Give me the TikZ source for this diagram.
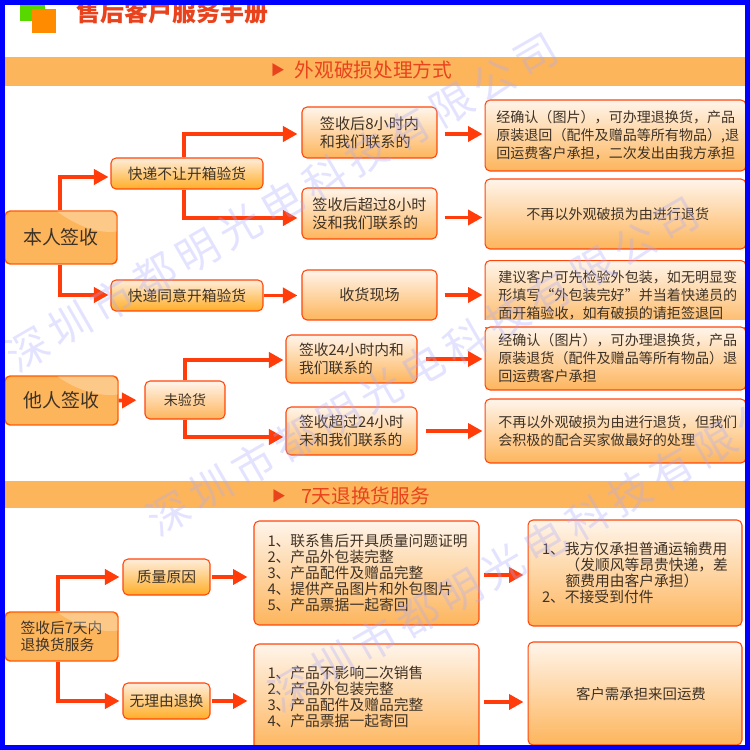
\documentclass[tikz,border=0pt]{standalone}
\usepackage{xcolor}
\usepackage{fontspec}
\setmainfont{Noto Sans CJK SC}
\newfontfamily\wmfont{Noto Sans CJK SC}[LetterSpace=16]
\usetikzlibrary{arrows.meta,calc}
\definecolor{linered}{HTML}{FF3C0A}
\definecolor{ink}{HTML}{3E3226}
\definecolor{headred}{HTML}{E9431E}
\definecolor{barorange}{HTML}{FDB55C}
\newcommand{\ind}{\hspace*{0.09cm}}
\tikzset{
    box/.style={draw=linered!85!orange,line width=0.6pt,rounded corners=0.1cm,top color=orange!8!white,bottom color=barorange,inner sep=0pt,text=ink,font=\fontsize{8}{10.2}\selectfont,align=left},
    midbox/.style={box,font=\fontsize{8.6}{10.2}\selectfont},
    smallbox/.style={box,font=\fontsize{8.4}{10}\selectfont,top color=orange!14!white,bottom color=orange!75!yellow!85!white},
    mainbox/.style={box,draw=orange!70!red,line width=0.8pt,top color=barorange,bottom color=barorange},
    listbox/.style={box,text width=3.96cm},
    bar/.style={fill=barorange,inner sep=0pt,minimum width=14.8cm},
    barlabel/.style={text=headred,font=\fontsize{11.2}{12}\selectfont},
    arr/.style={draw=linered,line width=0.075cm,-{Triangle[length=0.29cm,width=0.3cm]}},
    watermark/.style={text=blue!55!white!60!white,opacity=0.32,rotate=30,font=\wmfont\fontsize{24}{26}\selectfont}
}
\begin{document}
\begin{tikzpicture}[x=0.02cm,y=-0.02cm]
    \clip (0,0) rectangle (750,750);
    \fill[white] (0,0) rectangle (750,750);

    % header
    \node[fill=green!60!yellow!85!black,minimum width=0.5cm,minimum height=0.32cm,inner sep=0pt] (sqa) at (32.5,13) {};
    \node[fill=orange!90!yellow,minimum width=0.48cm,minimum height=0.48cm,inner sep=0pt] (sqb) at (44,21) {};
    \node[text=headred,font=\fontsize{13.6}{15}\selectfont\bfseries] (title) at (172.5,12) {售后客户服务手册};

    % first bar
    \node[bar,minimum height=0.58cm] (bar1) at (375,71.5) {};
    \node[barlabel,font=\fontsize{8}{9}\selectfont] (mark1) at (278,70) {▶};
    \node[barlabel] (head1) at (373.5,70.5) {外观破损处理方式};

    % own signature
    \node[mainbox,minimum width=2.24cm,minimum height=1.06cm,font=\fontsize{10.8}{12}\selectfont] (own) at (61,237.5) {本人签收};
    \node[smallbox,minimum width=3.04cm,minimum height=0.62cm] (refuse) at (187,173.5) {快递不让开箱验货};
    \node[smallbox,minimum width=3.04cm,minimum height=0.62cm] (agree) at (187,295.5) {快递同意开箱验货};
    \node[midbox,minimum width=2.7cm,minimum height=1.02cm] (ina) at (369.5,132.5) {签收后8小时内\\和我们联系的};
    \node[midbox,minimum width=2.7cm,minimum height=1.02cm] (inb) at (369.5,213.5) {签收后超过8小时\\没和我们联系的};
    \node[midbox,minimum width=2.7cm,minimum height=1cm] (inc) at (369.5,295) {收货现场};
    \node[box,minimum width=5.22cm,minimum height=1.42cm] (resa) at (615.5,135.5) {\ind 经确认（图片），可办理退换货，产品\\\ind 原装退回（配件及赠品等所有物品）,退\\\ind 回运费客户承担，二次发出由我方承担};
    \node[box,minimum width=5.22cm,minimum height=1.4cm] (resb) at (615.5,214) {\ind 不再以外观破损为由进行退货};
    \node[box,minimum width=5.22cm,minimum height=1.4cm,anchor=north] (resc) at (615.5,260) {\ind 建议客户可先检验外包装，如无明显变\\\ind 形填写“外包装完好”并当着快递员的\\\ind 面开箱验收，如有破损的请拒签退回};
    \fill[white] (480,320) rectangle (750,327); % cut off at the bottom

    % other signature
    \node[mainbox,minimum width=2.26cm,minimum height=0.98cm,font=\fontsize{10.8}{12}\selectfont] (other) at (61.5,400.5) {他人签收};
    \node[box,minimum width=1.6cm,minimum height=0.76cm] (unseen) at (185,400) {未验货};
    \node[midbox,font=\fontsize{8.4}{10.2}\selectfont,minimum width=2.62cm,minimum height=0.96cm] (ind) at (351.5,359) {签收24小时内和\\我们联系的};
    \node[midbox,font=\fontsize{8.4}{10.2}\selectfont,minimum width=2.62cm,minimum height=0.96cm] (ine) at (351.5,431) {签收超过24小时\\未和我们联系的};
    \node[box,minimum width=5.22cm,minimum height=1.26cm] (resd) at (615.5,358.5) {\ind 经确认（图片），可办理退换货，产品\\\ind 原装退货（配件及赠品等所有物品）退\\\ind 回运费客户承担};
    \node[box,minimum width=5.22cm,minimum height=1.28cm] (rese) at (615.5,431) {\ind 不再以外观破损为由进行退货，但我们\\\ind 会积极的配合买家做最好的处理};

    % second bar
    \node[bar,minimum height=0.54cm] (bar2) at (375,494.5) {};
    \node[barlabel,font=\fontsize{8}{9}\selectfont] (mark2) at (279,496) {▶};
    \node[barlabel] (head2) at (365.5,496) {7天退换货服务};

    % seven days
    \node[mainbox,minimum width=2.26cm,minimum height=0.98cm,font=\fontsize{8.4}{9.6}\selectfont] (days) at (61.5,636.5) {签收后7天内\\退换货服务};
    \node[smallbox,minimum width=1.74cm,minimum height=0.72cm] (quality) at (166.5,577) {质量原因};
    \node[smallbox,minimum width=1.74cm,minimum height=0.72cm] (noreason) at (166.5,701) {无理由退换};
    \node[listbox,minimum width=4.5cm,minimum height=2.08cm,font=\fontsize{8.4}{9.1}\selectfont] (lista) at (366.5,573) {1、联系售后开具质量问题证明\\2、产品外包装完整\\3、产品配件及赠品完整\\4、提供产品图片和外包图片\\5、产品票据一起寄回};
    \node[listbox,minimum width=4.5cm,minimum height=2.12cm,font=\fontsize{8.4}{9.1}\selectfont] (listb) at (366.5,697) {1、产品不影响二次销售\\2、产品外包装完整\\3、产品配件及赠品完整\\4、产品票据一起寄回};
    \node[box,minimum width=4.28cm,minimum height=2.12cm,font=\fontsize{8.4}{9.1}\selectfont] (feea) at (635,573) {1、我方仅承担普通运输费用\\\hspace*{1.6em}（发顺风等昂贵快递，差\\\hspace*{1.6em}额费用由客户承担）\\2、不接受到付件};
    \node[box,minimum width=4.28cm,minimum height=2.06cm,font=\fontsize{8.2}{9.1}\selectfont] (feeb) at (635,693.5) {\hspace*{0.24cm}客户需承担来回运费};

    % gloss on the three big boxes
    \foreach \n in {own,other,days} {
        \fill[white,opacity=0.28] ($(\n.north)+(-4,1)$) -- ($(\n.north east)+(-5,1)$) -- ($(\n.north east)+(-1,6)$) -- ($(\n.east)+(-1,-6)$) .. controls ($(\n.east)+(-25,-3)$) and ($(\n.north)+(8,10)$) .. cycle;
    }

    % connections
    \coordinate (ja) at (60,177);
    \coordinate (jb) at (60,295);
    \coordinate (jc) at (184,134);
    \coordinate (jd) at (184,218);
    \coordinate (je) at (185,360);
    \coordinate (jf) at (185,437);
    \coordinate (jg) at (58,577);
    \coordinate (jh) at (58,701);
    \draw[arr,shorten >=0.04cm] (own.north -| ja) |- (refuse.west |- ja);
    \draw[arr,shorten >=0.04cm] (own.south -| jb) |- (agree.west |- jb);
    \draw[arr,shorten >=0.08cm] (refuse.north -| jc) |- (ina.west |- jc);
    \draw[arr,shorten >=0.08cm] (refuse.south -| jd) |- (inb.west |- jd);
    \draw[arr,shorten >=0.08cm] (agree.east) -- (inc.west |- agree.east);
    \draw[arr,shorten <=0.14cm,shorten >=0.04cm] (ina.east |- 0,134) -- (resa.west |- 0,134);
    \draw[arr,shorten <=0.14cm,shorten >=0.04cm] (inb.east |- 0,217.5) -- (resb.west |- 0,217.5);
    \draw[arr,shorten <=0.14cm,shorten >=0.04cm] (inc.east) -- (resc.west |- inc.east);
    \draw[arr,shorten >=0.16cm] (other.east) -- (unseen.west);
    \draw[arr,shorten >=0.04cm] (unseen.north -| je) |- (ind.west |- je);
    \draw[arr,shorten >=0.04cm] (unseen.south -| jf) |- (ine.west |- jf);
    \draw[arr,shorten <=0.16cm,shorten >=0.04cm] (ind.east) -- (resd.west |- ind.east);
    \draw[arr,shorten <=0.16cm,shorten >=0.04cm] (ine.east) -- (rese.west |- ine.east);
    \draw[arr,shorten >=0.06cm] (days.north -| jg) |- (quality.west |- jg);
    \draw[arr,shorten >=0.06cm] (days.south -| jh) |- (noreason.west |- jh);
    \draw[arr,shorten <=0.02cm,shorten >=0.12cm] (quality.east) -- (lista.west |- quality.east);
    \draw[arr,shorten <=0.02cm,shorten >=0.12cm] (noreason.east) -- (listb.west |- noreason.east);
    \draw[arr,shorten <=0.08cm,shorten >=0.08cm] (lista.east |- 0,575) -- (feea.west |- 0,575);
    \draw[arr,shorten <=0.08cm,shorten >=0.08cm] (listb.east |- 0,702) -- (feeb.west |- 0,702);

    % watermark
    \node[watermark] (marka) at (282,202) {深圳市都明光电科技有限公司};
    \node[watermark] (markb) at (423,366) {深圳市都明光电科技有限公司};
    \node[watermark] (markc) at (545,542) {深圳市都明光电科技有限公司};

    % frame
    \draw[blue,line width=0.1cm] (2.5,2.5) rectangle (747.5,747.5);
\end{tikzpicture}
\end{document}
